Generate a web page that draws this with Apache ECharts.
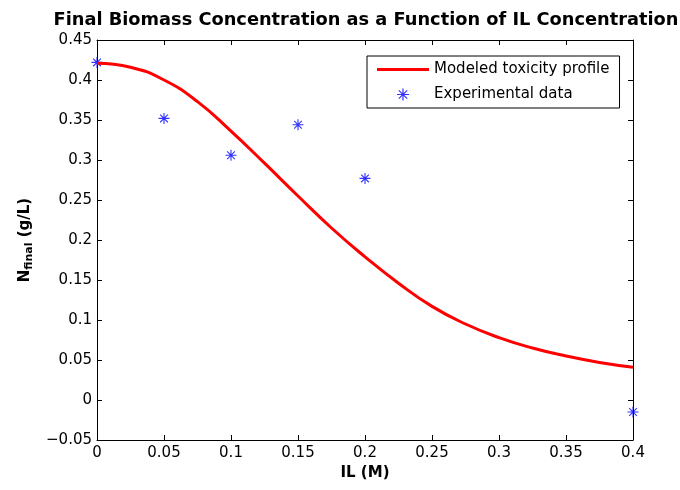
<!DOCTYPE html>
<html>
<head>
<meta charset="utf-8">
<script src="https://cdn.jsdelivr.net/npm/echarts@6/dist/echarts.min.js"></script>
<style>html,body{margin:0;padding:0;background:#fff;}#c{width:680px;height:490px;}</style>
</head>
<body>
<div id="c"></div>
<script>
// Modeled toxicity profile
const curveX = [0, 0.025, 0.05, 0.075, 0.1, 0.125, 0.15, 0.175, 0.2, 0.225, 0.25, 0.275, 0.3, 0.325, 0.35, 0.375, 0.4];
const curveY = [0.421, 0.416, 0.400, 0.373, 0.336, 0.296, 0.255, 0.215, 0.179, 0.146, 0.117, 0.095, 0.078, 0.065, 0.055, 0.047, 0.041];
// Experimental data
const expX = [0, 0.05, 0.1, 0.15, 0.2, 0.4];
const expY = [0.422, 0.352, 0.306, 0.344, 0.277, -0.015];

const FONT = 'DejaVu Sans';
const asterisk = 'path://M-0.5,-5L0.5,-5L0.5,5L-0.5,5Z M-5,-0.5L5,-0.5L5,0.5L-5,0.5Z M-3.15,-3.85L3.85,3.15L3.15,3.85L-3.85,-3.15Z M3.15,-3.85L3.85,-3.15L-3.15,3.85L-3.85,3.15Z';
const lineIcon = 'path://M0,0L52,0L52,3L0,3Z';

const chart = echarts.init(document.getElementById('c'), null, {renderer: 'canvas'});
const axisCommon = {
  axisLine: {show: true, onZero: false, lineStyle: {color: '#000', width: 1}},
  axisTick: {show: true, inside: true, length: 5, lineStyle: {color: '#000'}},
  splitLine: {show: false}
};
chart.setOption({
  animation: false,
  textStyle: {fontFamily: FONT},
  title: {
    text: 'Final Biomass Concentration as a Function of IL Concentration',
    left: 361, top: 6, textAlign: 'center',
    textStyle: {fontFamily: FONT, fontSize: 17.8, fontWeight: 'bold', color: '#000'}
  },
  legend: {
    orient: 'vertical', left: 367, top: 56,
    padding: [6, 10, 6, 10],
    itemWidth: 52, itemHeight: 12, itemGap: 10,
    borderColor: '#000', borderWidth: 1, backgroundColor: '#fff',
    textStyle: {fontFamily: FONT, fontSize: 15, color: '#000'},
    data: [
      {name: 'Modeled toxicity profile', icon: lineIcon},
      {name: 'Experimental data'}
    ]
  },
  grid: {left: 97, right: 47, top: 40, bottom: 50},
  xAxis: [
    Object.assign({
      type: 'value', min: 0, max: 0.4, interval: 0.05, position: 'bottom',
      name: 'IL (M)', nameLocation: 'middle', nameGap: 23,
      nameTextStyle: {fontFamily: FONT, fontSize: 15, fontWeight: 'bold', color: '#000'},
      axisLabel: {fontFamily: FONT, fontSize: 15, color: '#000', margin: 6}
    }, axisCommon),
    Object.assign({
      type: 'value', min: 0, max: 0.4, interval: 0.05, position: 'top',
      axisLabel: {show: false}
    }, axisCommon)
  ],
  yAxis: [
    Object.assign({
      type: 'value', min: -0.05, max: 0.45, interval: 0.05, position: 'left',
      name: '{n|N}{s|final}{n| (g/L)}', nameLocation: 'middle', nameGap: 63, nameRotate: 90,
      nameTextStyle: {
        rich: {
          n: {fontFamily: FONT, fontSize: 15, fontWeight: 'bold', color: '#000', lineHeight: 18},
          s: {fontFamily: FONT, fontSize: 11, fontWeight: 'bold', color: '#000', lineHeight: 18, padding: [8, 0, 0, 0]}
        }
      },
      axisLabel: {
        fontFamily: FONT, fontSize: 15, color: '#000', margin: 5,
        formatter: function (v) {
          let s = String(Math.round(v * 1000) / 1000);
          return s.replace('-', '\u2212');
        }
      }
    }, axisCommon),
    Object.assign({
      type: 'value', min: -0.05, max: 0.45, interval: 0.05, position: 'right',
      axisLabel: {show: false}
    }, axisCommon)
  ],
  series: [
    {
      name: 'Modeled toxicity profile', type: 'line', xAxisIndex: 0, yAxisIndex: 0,
      data: curveX.map((x, i) => [x, curveY[i]]),
      smooth: 0.5, showSymbol: false, symbol: 'none',
      lineStyle: {color: '#ff0000', width: 3}, itemStyle: {color: '#ff0000'}
    },
    {
      name: 'Experimental data', type: 'scatter', xAxisIndex: 0, yAxisIndex: 0,
      data: expX.map((x, i) => [x, expY[i]]),
      symbol: asterisk, symbolSize: 11, symbolKeepAspect: true, clip: false,
      itemStyle: {color: '#0000ff'}
    }
  ]
});
</script>
</body>
</html>
